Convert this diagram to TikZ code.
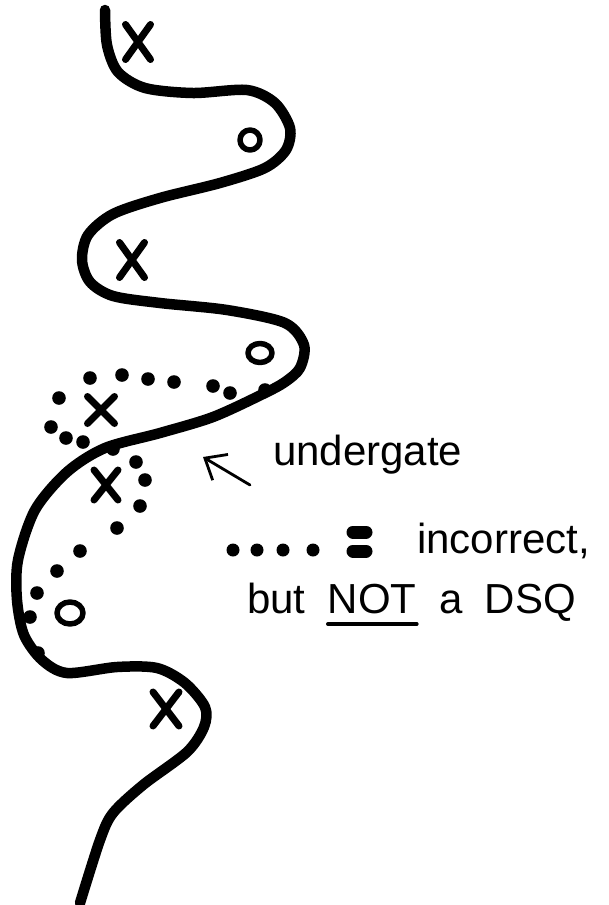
\documentclass[tikz,border=0pt]{standalone}
\usepackage{fontspec}
\setmainfont{Liberation Sans}
\usetikzlibrary{arrows.meta,positioning,shapes.misc,shapes.geometric}

\begin{document}
\begin{tikzpicture}[x=1pt,y=-1pt,line cap=round,line join=round]
		\tikzstyle{trail}=[line width=10.5pt];
		\tikzstyle{xmark}=[cross out,draw,line width=7pt,inner sep=0pt];
		\tikzstyle{omark}=[ellipse,draw,line width=5.5pt,inner sep=0pt];
		\tikzstyle{hand}=[font=\fontsize{42}{48}\selectfont,inner sep=0pt,anchor=base west];

		\useasboundingbox (0,0) rectangle (609,905);

		% the path
		\draw[trail] plot[smooth] coordinates {(105,10) (107,45) (118,72) (145,88) (193,93) (247,90)
			(275,103) (290,128) (286,150) (265,168) (220,183) (160,198) (113,214) (88,235) (82,260)
			(90,282) (113,296) (160,303) (227,310) (285,323) (304,345) (300,368) (285,382) (263,394)
			(213,417) (160,433) (105,448) (67,472) (35,510) (18,560) (17,600) (24,635) (42,660)
			(67,673) (117,667) (157,668) (185,683) (205,707) (204,727) (187,752) (143,785) (113,813)
			(100,840) (80,903)};

		% the wrong path
		\foreach \x/\y in {265/390, 230/393, 213/386, 174/382, 148/379, 122/375, 90/378,
				59/398, 51/427, 66/438, 83/442, 113/449, 136/462, 145/480, 140/506, 117/528,
				80/551, 57/571, 37/593, 30/617, 38/653}
			\fill (\x,\y) circle (6.8);

		\node[xmark,minimum width=18,minimum height=28] (x1) at (138,42) {};
		\node[omark,minimum width=20,minimum height=20] (o1) at (250,140) {};
		\node[xmark,minimum width=18,minimum height=28] (x2) at (132,260) {};
		\node[omark,minimum width=24,minimum height=19] (o2) at (260,353) {};
		\node[xmark,minimum width=20,minimum height=20] (x3) at (101,410) {};
		\node[xmark,minimum width=17,minimum height=23] (x4) at (106,485) {};
		\node[omark,minimum width=26,minimum height=22] (o3) at (70,613) {};
		\node[xmark,minimum width=19,minimum height=27] (x5) at (166,709) {};

		% labels
		\node[hand] (under) at (273,465) {undergate};
		\coordinate (gate) at (203,457);
		\draw[line width=2.8pt,-{Straight Barb[length=18pt,width=30pt]}] ([xshift=-23pt,yshift=-20pt]under.base west) -- (gate);

		\foreach \x in {233,257,283,313}
			\fill (\x,550) circle (6.5);
		\draw[line width=13pt] (353,532) -- (366,532) (353,551) -- (366,551);
		\node[hand] (wrong) at (417,553) {incorrect,};
		\node[hand] (but) at (247,613) {but};
		\node[hand,right=22pt of but.base east,anchor=base west] (nope) {NOT};
		\node[hand,right=22pt of nope.base east,anchor=base west] (aword) {a};
		\node[hand,right=22pt of aword.base east,anchor=base west] (dsq) {DSQ};
		\draw[line width=3.5pt] ([yshift=-11pt]nope.base west) -- ([yshift=-11pt]nope.base east);
	\end{tikzpicture}
\end{document}
